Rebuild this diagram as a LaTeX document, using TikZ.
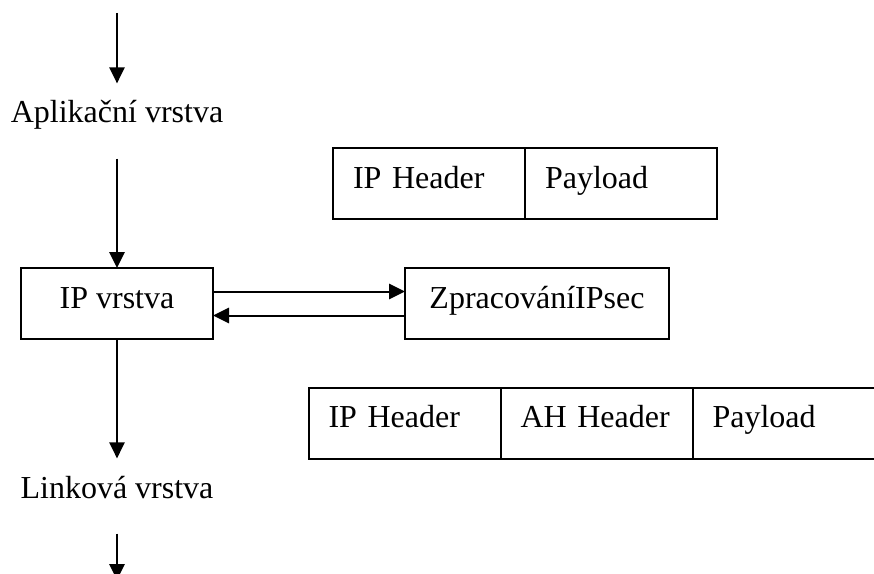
\documentclass[tikz,border=0pt]{standalone}
\usepackage{fontspec}
\setmainfont{Liberation Serif}
\usetikzlibrary{arrows.meta,positioning}

\begin{document}
\begin{tikzpicture}
  [x=0.75pt,y=-0.75pt,>={Triangle[length=12pt,width=11.5pt]},line width=1.5pt,%按像素设置坐标单位、箭头样式和线宽。
   every node/.style={font=\fontsize{24}{28}\selectfont},%所有节点使用同一字号。
   layer/.style={inner sep=0pt,text height=29pt,text depth=26pt},%定义了层名称的样式,没有边框。
   box/.style={draw,outer sep=0pt,inner ysep=0pt,minimum height=53.25pt,text height=30pt,text depth=23.25pt},%定义了矩形框的样式。
   cell/.style={box,text width=114pt,align=left,inner xsep=15pt}]%定义了数据包字段的样式,继承了box样式,文字靠左。

  \useasboundingbox (0,0) rectangle (874,574);%固定图形的边界。
  \clip (0,0) rectangle (874,574);

  % 左侧的协议层 这些代码创建了层名称和两个处理框。
  \coordinate (in) at (117,13);
  \node [layer,anchor=base] (app) at (117,123) {Aplikační vrstva};
  \node [box,minimum width=144pt] (ip) at (117,303.5) {IP vrstva};%定义了IP层的矩形框,并将其命名为ip。
  \node [box,minimum width=198pt] (zp) at (537,303.5) {ZpracováníIPsec};
  \node [layer,anchor=base] (link) at (117,498) {Linková vrstva};
  \coordinate (out) at (117,580);

  % 数据包 处理前和处理后的字段。
  \node [cell,anchor=west] (h1) at (333,183.5) {IP Header};
  \node [cell,right=0pt of h1] (p1) {Payload};%字段紧贴在前一个字段的右侧。

  \node [cell,anchor=west] (h2) at (308.5,423) {IP Header};
  \node [cell,right=0pt of h2] (ah2) {AH Header};
  \node [cell,right=0pt of ah2] (p2) {Payload};

  % 箭头
  \draw [->] (in) -- (app);
  \draw [->] (app) -- (ip);
  \draw [->] (ip) -- (link);
  \draw [->] (link) -- (out);
  \draw [->] ([yshift=9pt]ip.east) -- ([yshift=9pt]zp.west);%从ip到zp的上方箭头。
  \draw [->] ([yshift=-9pt]zp.west) -- ([yshift=-9pt]ip.east);%从zp返回ip的下方箭头。

\end{tikzpicture}
\end{document}
